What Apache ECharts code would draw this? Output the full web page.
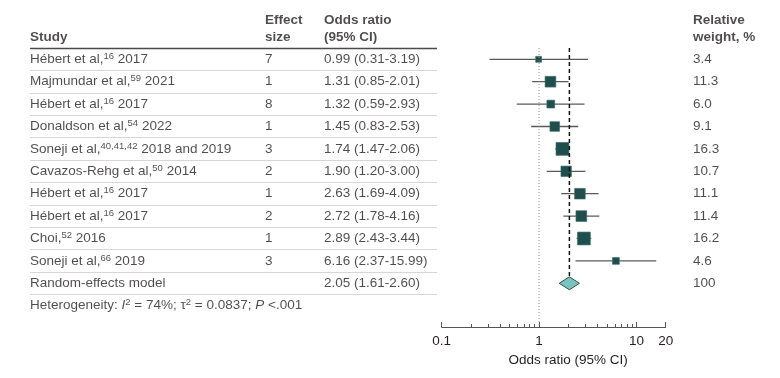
<!DOCTYPE html>
<html><head><meta charset="utf-8">
<script src="https://cdn.jsdelivr.net/npm/echarts@6/dist/echarts.min.js"></script>
<style>html,body{margin:0;padding:0;background:#fff}#c{width:780px;height:378px}</style>
</head><body><div id="c"></div>
<script>
// ---- data ----
const studyNames = ['Hébert et al,', 'Majmundar et al,', 'Hébert et al,', 'Donaldson et al,', 'Soneji et al,', 'Cavazos-Rehg et al,', 'Hébert et al,', 'Hébert et al,', 'Choi,', 'Soneji et al,'];
const studyRefs = ['16', '59', '16', '54', '40,41,42', '50', '16', '16', '52', '66'];
const studyYears = ['2017', '2021', '2017', '2022', '2018 and 2019', '2014', '2017', '2017', '2016', '2019'];
const effectSizes = [7, 1, 8, 1, 3, 2, 1, 2, 1, 3];
const oddsRatios = [0.99, 1.31, 1.32, 1.45, 1.74, 1.90, 2.63, 2.72, 2.89, 6.16];
const ciLower = [0.31, 0.85, 0.59, 0.83, 1.47, 1.20, 1.69, 1.78, 2.43, 2.37];
const ciUpper = [3.19, 2.01, 2.93, 2.53, 2.06, 3.00, 4.09, 4.16, 3.44, 15.99];
const weights = [3.4, 11.3, 6.0, 9.1, 16.3, 10.7, 11.1, 11.4, 16.2, 4.6];
const pooledLabel = 'Random-effects model';
const pooledOR = 2.05, pooledLower = 1.61, pooledUpper = 2.60, pooledWeight = 100;
const heterogeneity = { i2: '74%', tau2: '0.0837', p: '<.001' };
const majorTicks = [0.1, 1, 10, 20];
const minorTicks = [0.2, 0.3, 0.4, 0.5, 0.6, 0.7, 0.8, 0.9, 2, 3, 4, 5, 6, 7, 8, 9];
const headers = { study: 'Study', effect: ['Effect', 'size'], or: ['Odds ratio', '(95% CI)'], weight: ['Relative', 'weight, %'] };

// ---- layout ----
const FONT = 'Liberation Sans';
const FS = 13.5;
const TXT = '#231f20';
const ROW = 22.4;
const Y_MIN = -1.5, Y_MAX = 12.95;
const TOP = 36.9 + Y_MIN * ROW;
const HEIGHT = (Y_MAX - Y_MIN) * ROW;
const COL_STUDY = 30, COL_EFFECT = 265, COL_OR = 324, COL_WEIGHT = 693, TABLE_END = 437;
const nRows = studyNames.length;
const pooledRow = nRows + 1;
const hetRow = nRows + 2;

const rows = studyNames.map((_, i) => i + 1);

function textSeries(x, items) {
  return {
    type: 'scatter', xAxisIndex: 2, yAxisIndex: 1, symbolSize: 0, clip: false, silent: true,
    emphasis: { disabled: true },
    data: items.map(it => ({ value: [x, it.y], txt: it.t })),
    label: {
      show: true, position: 'right', distance: 0,
      formatter: p => p.data.txt,
      fontFamily: FONT, fontSize: FS, color: TXT, lineHeight: 16,
      rich: {
        n: { fontFamily: FONT, fontSize: FS, color: TXT, lineHeight: 16 },
        i: { fontFamily: FONT, fontSize: FS, color: TXT, lineHeight: 16, fontStyle: 'italic' },
        s: { fontFamily: FONT, fontSize: 9.5, color: TXT, verticalAlign: 'top', lineHeight: 11 }
      }
    }
  };
}

const hdrY1 = -0.75, hdrY2 = 0.03;

const studyItems = rows.map((r, i) => ({ y: r, t: '{n|' + studyNames[i] + '}{s|' + studyRefs[i] + '}{n| ' + studyYears[i] + '}' }));
studyItems.push({ y: pooledRow, t: '{n|' + pooledLabel + '}' });
studyItems.push({ y: hetRow, t: '{n|Heterogeneity: }{i|I}{s|2}{n| = ' + heterogeneity.i2 + '; τ}{s|2}{n| = ' + heterogeneity.tau2 + '; }{i|P}{n| ' + heterogeneity.p + '}' });

const effectItems = rows.map((r, i) => ({ y: r, t: String(effectSizes[i]) }));
const orItems = rows.map((r, i) => ({ y: r, t: oddsRatios[i].toFixed(2) + ' (' + ciLower[i].toFixed(2) + '-' + ciUpper[i].toFixed(2) + ')' }));
orItems.push({ y: pooledRow, t: pooledOR.toFixed(2) + ' (' + pooledLower.toFixed(2) + '-' + pooledUpper.toFixed(2) + ')' });
const weightItems = rows.map((r, i) => ({ y: r, t: weights[i].toFixed(1) }));
weightItems.push({ y: pooledRow, t: String(pooledWeight) });

function headerSeries(x, lines) {
  const items = lines.length === 2 ? [{ y: hdrY1, t: lines[0] }, { y: hdrY2, t: lines[1] }] : [{ y: hdrY2, t: lines[0] }];
  const s = textSeries(x, items);
  s.label.fontWeight = 'bold';
  return s;
}

// separators
const sepLines = [];
for (let r = 1; r <= pooledRow; r++) {
  sepLines.push([{ coord: [COL_STUDY, r + 0.5], lineStyle: { color: '#d6d6d6', width: 1, type: 'solid' } }, { coord: [TABLE_END, r + 0.5] }]);
}

const axisCommon = { fontFamily: FONT, fontSize: FS, color: TXT };

const textCol = textSeries(COL_STUDY, studyItems);
textCol.markLine = {
  silent: true, symbol: 'none', label: { show: false }, animation: false,
  data: [[{ coord: [COL_STUDY, 0.5], lineStyle: { color: '#4a4a4a', width: 1.3, type: 'solid' } }, { coord: [TABLE_END, 0.5] }]].concat(sepLines)
};

const option = {
  animation: false,
  backgroundColor: '#fff',
  textStyle: { fontFamily: FONT },
  grid: [
    { left: 441.7, width: 224, top: TOP, height: HEIGHT },
    { left: 0, width: 780, top: TOP, height: HEIGHT }
  ],
  xAxis: [
    {
      type: 'log', logBase: 10, min: 0.1, max: 20, gridIndex: 0, position: 'bottom',
      axisLine: { show: true, onZero: false, lineStyle: { color: '#555', width: 1 } },
      axisTick: { show: true, inside: true, length: 5, customValues: majorTicks, lineStyle: { color: '#555' } },
      axisLabel: { show: true, margin: 7, customValues: majorTicks, formatter: v => String(v), ...axisCommon },
      splitLine: { show: false },
      name: 'Odds ratio (95% CI)', nameLocation: 'middle', nameGap: 25,
      nameTextStyle: { ...axisCommon, padding: [0, 0, 0, 29] }
    },
    {
      type: 'log', logBase: 10, min: 0.1, max: 20, gridIndex: 0, position: 'bottom', offset: 0,
      axisLine: { show: false, onZero: false },
      axisTick: { show: true, inside: true, length: 3, customValues: minorTicks, lineStyle: { color: '#555' } },
      axisLabel: { show: false },
      splitLine: { show: false }
    },
    { type: 'value', min: 0, max: 780, gridIndex: 1, show: false }
  ],
  yAxis: [
    { type: 'value', min: Y_MIN, max: Y_MAX, inverse: true, gridIndex: 0, show: false },
    { type: 'value', min: Y_MIN, max: Y_MAX, inverse: true, gridIndex: 1, show: false }
  ],
  series: [
    textCol,
    textSeries(COL_EFFECT, effectItems),
    textSeries(COL_OR, orItems),
    textSeries(COL_WEIGHT, weightItems),
    headerSeries(COL_STUDY, [headers.study]),
    headerSeries(COL_EFFECT, headers.effect),
    headerSeries(COL_OR, headers.or),
    headerSeries(COL_WEIGHT, headers.weight),
    {
      type: 'line', xAxisIndex: 0, yAxisIndex: 0, symbol: 'none', silent: true,
      data: [[1, 0.5], [1, Y_MAX]],
      lineStyle: { color: '#8a8a8a', width: 1, type: [1, 2] }
    },
    {
      type: 'line', xAxisIndex: 0, yAxisIndex: 0, symbol: 'none', silent: true,
      data: [[pooledOR, 0.5], [pooledOR, pooledRow - 0.29]],
      lineStyle: { color: '#111', width: 1.5, type: [4, 3] }
    },
    {
      type: 'custom', xAxisIndex: 0, yAxisIndex: 0, silent: true,
      data: rows.map((r, i) => [ciLower[i], ciUpper[i], r]),
      renderItem: (params, api) => {
        const a = api.coord([api.value(0), api.value(2)]);
        const b = api.coord([api.value(1), api.value(2)]);
        return { type: 'line', shape: { x1: a[0], y1: a[1], x2: b[0], y2: b[1] }, style: { stroke: '#5a5a5a', lineWidth: 1.3 } };
      }
    },
    {
      type: 'scatter', xAxisIndex: 0, yAxisIndex: 0, silent: true, symbol: 'rect',
      data: rows.map((r, i) => [oddsRatios[i], r, weights[i]]),
      symbolSize: v => 3.2 * Math.sqrt(v[2]),
      itemStyle: { color: '#1f4f4d', borderColor: '#3d6b69', borderWidth: 0.6, opacity: 1 }
    },
    {
      type: 'custom', xAxisIndex: 0, yAxisIndex: 0, silent: true,
      data: [[pooledLower, pooledOR, pooledUpper, pooledRow]],
      renderItem: (params, api) => {
        const y = api.value(3), h = 0.29;
        const p1 = api.coord([api.value(0), y]);
        const p2 = api.coord([api.value(1), y - h]);
        const p3 = api.coord([api.value(2), y]);
        const p4 = api.coord([api.value(1), y + h]);
        return { type: 'polygon', shape: { points: [p1, p2, p3, p4] }, style: { fill: '#7cc3bf', stroke: '#2d5553', lineWidth: 1 } };
      }
    }
  ]
};

const chart = echarts.init(document.getElementById('c'), null, { renderer: 'canvas' });
chart.setOption(option);
</script>
</body></html>
